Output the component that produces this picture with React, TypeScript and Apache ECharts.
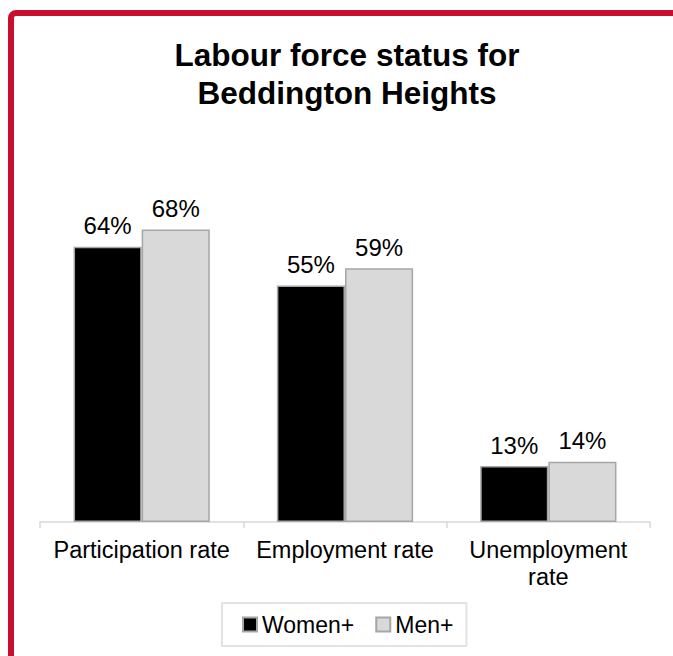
import React, { useEffect, useRef } from "react";
import * as echarts from "echarts";

const categories = ["Participation rate", "Employment rate", "Unemployment\nrate"];
const women = [64, 55, 13];
const men = [68, 59, 14];
const seriesNames = ["Women+", "Men+"];

export default function App() {
  const ref = useRef<HTMLDivElement>(null);
  useEffect(() => {
    if (!ref.current) return;
    const chart = echarts.init(ref.current, undefined, { renderer: "svg" });
    const font = "'Liberation Sans', Arial, sans-serif";
    const labelStyle = {
      show: true,
      position: "top",
      distance: 9,
      formatter: "{c}%",
      fontFamily: font,
      fontSize: 24,
      color: "#000",
    };
    chart.setOption({
      animation: false,
      backgroundColor: "#ffffff",
      textStyle: { fontFamily: font },
      title: {
        text: "Labour force status for\nBeddington Heights",
        left: 342,
        top: 31,
        textAlign: "center",
        textStyle: {
          fontFamily: font,
          fontSize: 31.5,
          fontWeight: "bold",
          color: "#000",
          lineHeight: 38,
        },
      },
      graphic: [
        {
          type: "rect",
          shape: { x: 11, y: 13, width: 720, height: 720, r: 5 },
          style: { fill: "none", stroke: "#C8102E", lineWidth: 6 },
          silent: true,
          z: 100,
        },
      ],
      legend: {
        data: seriesNames,
        left: 222,
        top: 603,
        padding: [10, 13, 10, 20],
        borderColor: "#e3e3e3",
        borderWidth: 2,
        itemWidth: 14,
        itemHeight: 14,
        itemGap: 21,
        icon: "rect",
        textStyle: { fontFamily: font, fontSize: 23, color: "#000", padding: [0, 0, 0, 0] },
      },
      grid: { left: 40, right: 23, top: 178, bottom: 134, containLabel: false },
      xAxis: {
        type: "category",
        data: categories,
        axisLine: { show: true, lineStyle: { color: "#d9d9d9", width: 1.5 } },
        axisTick: { show: true, length: 6, lineStyle: { color: "#d9d9d9", width: 1.5 } },
        axisLabel: {
          fontFamily: font,
          fontSize: 23.5,
          color: "#000",
          margin: 14,
          lineHeight: 27,
          interval: 0,
        },
      },
      yAxis: {
        type: "value",
        min: 0,
        max: 80,
        show: false,
        splitLine: { show: false },
      },
      series: [
        {
          name: seriesNames[0],
          type: "bar",
          data: women,
          barGap: "0%",
          barCategoryGap: "33%",
          itemStyle: { color: "#000000", borderColor: "#a6a6a6", borderWidth: 1.5 },
          label: labelStyle,
        },
        {
          name: seriesNames[1],
          type: "bar",
          data: men,
          itemStyle: { color: "#d9d9d9", borderColor: "#a6a6a6", borderWidth: 1.5 },
          label: labelStyle,
        },
      ],
    });
    return () => chart.dispose();
  }, []);
  return (
    <div
      ref={ref}
      style={{ position: "fixed", left: 0, top: 0, width: 673, height: 656 }}
    />
  );
}
